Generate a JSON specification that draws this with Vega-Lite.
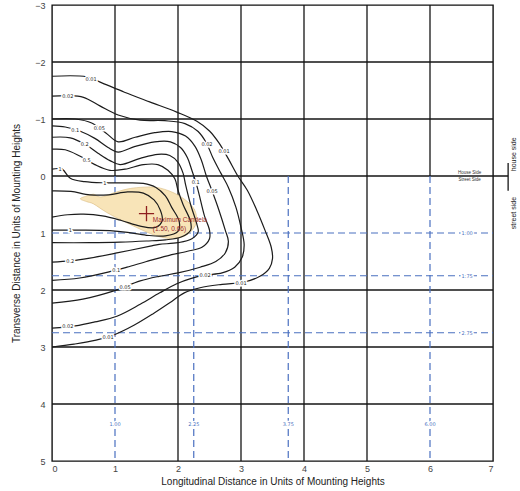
{
  "$schema": "https://vega.github.io/schema/vega-lite/v6.json",
  "width": 441,
  "height": 456,
  "autosize": {"type": "none"},
  "padding": {"left": 52, "top": 5, "right": 27, "bottom": 30},
  "config": {
    "view": {"stroke": "#111", "strokeWidth": 1.4},
    "font": "Liberation Sans",
    "axis": {"labelFont": "Liberation Sans", "titleFont": "Liberation Sans"}
  },
  "datasets": {
    "grid": [
      {"x1": 1, "x2": 1, "y1": -3, "y2": 0},
      {"x1": 2, "x2": 2, "y1": -3, "y2": 5},
      {"x1": 3, "x2": 3, "y1": -3, "y2": 5},
      {"x1": 4, "x2": 4, "y1": -3, "y2": 5},
      {"x1": 5, "x2": 5, "y1": -3, "y2": 5},
      {"x1": 6, "x2": 6, "y1": -3, "y2": 0},
      {"x1": 0, "x2": 7, "y1": -2, "y2": -2},
      {"x1": 0, "x2": 7, "y1": -1, "y2": -1},
      {"x1": 0, "x2": 7.24, "y1": 0, "y2": 0},
      {"x1": 0, "x2": 7, "y1": 2, "y2": 2},
      {"x1": 0, "x2": 7, "y1": 3, "y2": 3},
      {"x1": 0, "x2": 7, "y1": 4, "y2": 4},
      {"x1": 7.24, "x2": 7.24, "y1": -0.23, "y2": 0.26}
    ],
    "dash": [
      {"x1": 1, "x2": 1, "y1": 0, "y2": 5},
      {"x1": 2.25, "x2": 2.25, "y1": 0, "y2": 5},
      {"x1": 3.75, "x2": 3.75, "y1": 0, "y2": 5},
      {"x1": 6, "x2": 6, "y1": 0, "y2": 5},
      {"x1": 0, "x2": 7, "y1": 1, "y2": 1},
      {"x1": 0, "x2": 7, "y1": 1.75, "y2": 1.75},
      {"x1": 0, "x2": 7, "y1": 2.75, "y2": 2.75}
    ],
    "yellow": [
      {"i": 0, "x": 0.45, "y": 0.40},
      {"i": 1, "x": 0.55, "y": 0.35},
      {"i": 2, "x": 0.66, "y": 0.32},
      {"i": 3, "x": 0.73, "y": 0.36},
      {"i": 4, "x": 0.82, "y": 0.36},
      {"i": 5, "x": 0.97, "y": 0.30},
      {"i": 6, "x": 1.19, "y": 0.23},
      {"i": 7, "x": 1.40, "y": 0.20},
      {"i": 8, "x": 1.66, "y": 0.20},
      {"i": 9, "x": 1.92, "y": 0.29},
      {"i": 10, "x": 2.14, "y": 0.44},
      {"i": 11, "x": 2.27, "y": 0.61},
      {"i": 12, "x": 2.29, "y": 0.82},
      {"i": 13, "x": 2.19, "y": 0.99},
      {"i": 14, "x": 2.03, "y": 1.08},
      {"i": 15, "x": 1.82, "y": 1.09},
      {"i": 16, "x": 1.56, "y": 1.01},
      {"i": 17, "x": 1.13, "y": 0.79},
      {"i": 18, "x": 0.87, "y": 0.64},
      {"i": 19, "x": 0.66, "y": 0.49},
      {"i": 20, "x": 0.55, "y": 0.45}
    ],
    "contours": [
      {"c": "0.01", "i": 0, "x": 0, "y": -1.75},
      {"c": "0.01", "i": 1, "x": 0.55, "y": -1.74},
      {"c": "0.01", "i": 2, "x": 0.8, "y": -1.63},
      {"c": "0.01", "i": 3, "x": 1.15, "y": -1.47},
      {"c": "0.01", "i": 4, "x": 1.55, "y": -1.30},
      {"c": "0.01", "i": 5, "x": 1.98, "y": -1.12},
      {"c": "0.01", "i": 6, "x": 2.3, "y": -0.96},
      {"c": "0.01", "i": 7, "x": 2.5, "y": -0.79},
      {"c": "0.01", "i": 8, "x": 2.65, "y": -0.58},
      {"c": "0.01", "i": 9, "x": 2.8, "y": -0.3},
      {"c": "0.01", "i": 10, "x": 2.95, "y": 0},
      {"c": "0.01", "i": 11, "x": 3.1, "y": 0.25},
      {"c": "0.01", "i": 12, "x": 3.25, "y": 0.6},
      {"c": "0.01", "i": 13, "x": 3.38, "y": 0.95},
      {"c": "0.01", "i": 14, "x": 3.48, "y": 1.25},
      {"c": "0.01", "i": 15, "x": 3.5, "y": 1.45},
      {"c": "0.01", "i": 16, "x": 3.45, "y": 1.62},
      {"c": "0.01", "i": 17, "x": 3.3, "y": 1.76},
      {"c": "0.01", "i": 18, "x": 3.05, "y": 1.86},
      {"c": "0.01", "i": 19, "x": 2.7, "y": 1.9},
      {"c": "0.01", "i": 20, "x": 2.35, "y": 1.96},
      {"c": "0.01", "i": 21, "x": 2.1, "y": 2.05},
      {"c": "0.01", "i": 22, "x": 1.9, "y": 2.2},
      {"c": "0.01", "i": 23, "x": 1.6, "y": 2.42},
      {"c": "0.01", "i": 24, "x": 1.3, "y": 2.62},
      {"c": "0.01", "i": 25, "x": 1.0, "y": 2.78},
      {"c": "0.01", "i": 26, "x": 0.7, "y": 2.88},
      {"c": "0.01", "i": 27, "x": 0.35, "y": 2.95},
      {"c": "0.01", "i": 28, "x": 0, "y": 3.0},

      {"c": "0.02", "i": 0, "x": 0, "y": -1.40},
      {"c": "0.02", "i": 1, "x": 0.25, "y": -1.41},
      {"c": "0.02", "i": 2, "x": 0.5, "y": -1.38},
      {"c": "0.02", "i": 3, "x": 0.76, "y": -1.23},
      {"c": "0.02", "i": 4, "x": 1.05, "y": -1.07},
      {"c": "0.02", "i": 5, "x": 1.40, "y": -0.98},
      {"c": "0.02", "i": 6, "x": 1.79, "y": -0.97},
      {"c": "0.02", "i": 7, "x": 2.11, "y": -0.92},
      {"c": "0.02", "i": 8, "x": 2.32, "y": -0.78},
      {"c": "0.02", "i": 9, "x": 2.45, "y": -0.58},
      {"c": "0.02", "i": 10, "x": 2.55, "y": -0.33},
      {"c": "0.02", "i": 11, "x": 2.68, "y": -0.05},
      {"c": "0.02", "i": 12, "x": 2.8, "y": 0.2},
      {"c": "0.02", "i": 13, "x": 2.92, "y": 0.55},
      {"c": "0.02", "i": 14, "x": 3.0, "y": 0.9},
      {"c": "0.02", "i": 15, "x": 3.05, "y": 1.2},
      {"c": "0.02", "i": 16, "x": 3.02, "y": 1.42},
      {"c": "0.02", "i": 17, "x": 2.9, "y": 1.6},
      {"c": "0.02", "i": 18, "x": 2.7, "y": 1.7},
      {"c": "0.02", "i": 19, "x": 2.43, "y": 1.74},
      {"c": "0.02", "i": 20, "x": 2.2, "y": 1.8},
      {"c": "0.02", "i": 21, "x": 1.98, "y": 1.89},
      {"c": "0.02", "i": 22, "x": 1.71, "y": 2.05},
      {"c": "0.02", "i": 23, "x": 1.40, "y": 2.25},
      {"c": "0.02", "i": 24, "x": 1.03, "y": 2.46},
      {"c": "0.02", "i": 25, "x": 0.68, "y": 2.56},
      {"c": "0.02", "i": 26, "x": 0.37, "y": 2.63},
      {"c": "0.02", "i": 27, "x": 0, "y": 2.67},

      {"c": "0.05", "i": 0, "x": 0, "y": -1.0},
      {"c": "0.05", "i": 1, "x": 0.37, "y": -1.0},
      {"c": "0.05", "i": 2, "x": 0.63, "y": -0.93},
      {"c": "0.05", "i": 3, "x": 0.86, "y": -0.75},
      {"c": "0.05", "i": 4, "x": 1.05, "y": -0.6},
      {"c": "0.05", "i": 5, "x": 1.32, "y": -0.68},
      {"c": "0.05", "i": 6, "x": 1.63, "y": -0.76},
      {"c": "0.05", "i": 7, "x": 1.9, "y": -0.78},
      {"c": "0.05", "i": 8, "x": 2.12, "y": -0.7},
      {"c": "0.05", "i": 9, "x": 2.27, "y": -0.52},
      {"c": "0.05", "i": 10, "x": 2.37, "y": -0.28},
      {"c": "0.05", "i": 11, "x": 2.45, "y": 0.0},
      {"c": "0.05", "i": 12, "x": 2.54, "y": 0.26},
      {"c": "0.05", "i": 13, "x": 2.65, "y": 0.6},
      {"c": "0.05", "i": 14, "x": 2.75, "y": 0.95},
      {"c": "0.05", "i": 15, "x": 2.8, "y": 1.15},
      {"c": "0.05", "i": 16, "x": 2.75, "y": 1.35},
      {"c": "0.05", "i": 17, "x": 2.6, "y": 1.5},
      {"c": "0.05", "i": 18, "x": 2.35, "y": 1.6},
      {"c": "0.05", "i": 19, "x": 2.0, "y": 1.7},
      {"c": "0.05", "i": 20, "x": 1.70, "y": 1.76},
      {"c": "0.05", "i": 21, "x": 1.40, "y": 1.84},
      {"c": "0.05", "i": 22, "x": 0.97, "y": 2.02},
      {"c": "0.05", "i": 23, "x": 0.49, "y": 2.16},
      {"c": "0.05", "i": 24, "x": 0, "y": 2.23},

      {"c": "0.1", "i": 0, "x": 0, "y": -0.88},
      {"c": "0.1", "i": 1, "x": 0.21, "y": -0.86},
      {"c": "0.1", "i": 2, "x": 0.44, "y": -0.79},
      {"c": "0.1", "i": 3, "x": 0.68, "y": -0.66},
      {"c": "0.1", "i": 4, "x": 0.89, "y": -0.50},
      {"c": "0.1", "i": 5, "x": 1.05, "y": -0.42},
      {"c": "0.1", "i": 6, "x": 1.32, "y": -0.52},
      {"c": "0.1", "i": 7, "x": 1.63, "y": -0.60},
      {"c": "0.1", "i": 8, "x": 1.88, "y": -0.6},
      {"c": "0.1", "i": 9, "x": 2.04, "y": -0.5},
      {"c": "0.1", "i": 10, "x": 2.15, "y": -0.32},
      {"c": "0.1", "i": 11, "x": 2.22, "y": -0.1},
      {"c": "0.1", "i": 12, "x": 2.28, "y": 0.1},
      {"c": "0.1", "i": 13, "x": 2.33, "y": 0.3},
      {"c": "0.1", "i": 14, "x": 2.42, "y": 0.7},
      {"c": "0.1", "i": 15, "x": 2.5, "y": 0.95},
      {"c": "0.1", "i": 16, "x": 2.5, "y": 1.1},
      {"c": "0.1", "i": 17, "x": 2.38, "y": 1.25},
      {"c": "0.1", "i": 18, "x": 2.15, "y": 1.32},
      {"c": "0.1", "i": 19, "x": 1.83, "y": 1.40},
      {"c": "0.1", "i": 20, "x": 1.5, "y": 1.5},
      {"c": "0.1", "i": 21, "x": 1.19, "y": 1.6},
      {"c": "0.1", "i": 22, "x": 0.95, "y": 1.67},
      {"c": "0.1", "i": 23, "x": 0.44, "y": 1.79},
      {"c": "0.1", "i": 24, "x": 0, "y": 1.83},

      {"c": "0.2", "i": 0, "x": 0, "y": -0.68},
      {"c": "0.2", "i": 1, "x": 0.29, "y": -0.67},
      {"c": "0.2", "i": 2, "x": 0.52, "y": -0.56},
      {"c": "0.2", "i": 3, "x": 0.73, "y": -0.40},
      {"c": "0.2", "i": 4, "x": 0.92, "y": -0.27},
      {"c": "0.2", "i": 5, "x": 1.08, "y": -0.2},
      {"c": "0.2", "i": 6, "x": 1.40, "y": -0.31},
      {"c": "0.2", "i": 7, "x": 1.68, "y": -0.38},
      {"c": "0.2", "i": 8, "x": 1.87, "y": -0.36},
      {"c": "0.2", "i": 9, "x": 2.0, "y": -0.24},
      {"c": "0.2", "i": 10, "x": 2.08, "y": -0.05},
      {"c": "0.2", "i": 11, "x": 2.12, "y": 0.15},
      {"c": "0.2", "i": 12, "x": 2.2, "y": 0.5},
      {"c": "0.2", "i": 13, "x": 2.3, "y": 0.85},
      {"c": "0.2", "i": 14, "x": 2.32, "y": 0.98},
      {"c": "0.2", "i": 15, "x": 2.22, "y": 1.1},
      {"c": "0.2", "i": 16, "x": 2.0, "y": 1.17},
      {"c": "0.2", "i": 17, "x": 1.7, "y": 1.2},
      {"c": "0.2", "i": 18, "x": 1.56, "y": 1.23},
      {"c": "0.2", "i": 19, "x": 1.03, "y": 1.35},
      {"c": "0.2", "i": 20, "x": 0.6, "y": 1.44},
      {"c": "0.2", "i": 21, "x": 0.29, "y": 1.49},
      {"c": "0.2", "i": 22, "x": 0, "y": 1.51},

      {"c": "0.5", "i": 0, "x": 0, "y": -0.47},
      {"c": "0.5", "i": 1, "x": 0.21, "y": -0.46},
      {"c": "0.5", "i": 2, "x": 0.44, "y": -0.35},
      {"c": "0.5", "i": 3, "x": 0.68, "y": -0.2},
      {"c": "0.5", "i": 4, "x": 0.92, "y": -0.1},
      {"c": "0.5", "i": 5, "x": 1.16, "y": -0.12},
      {"c": "0.5", "i": 6, "x": 1.45, "y": -0.2},
      {"c": "0.5", "i": 7, "x": 1.68, "y": -0.2},
      {"c": "0.5", "i": 8, "x": 1.84, "y": -0.1},
      {"c": "0.5", "i": 9, "x": 1.95, "y": 0.05},
      {"c": "0.5", "i": 10, "x": 2.0, "y": 0.25},
      {"c": "0.5", "i": 11, "x": 2.08, "y": 0.5},
      {"c": "0.5", "i": 12, "x": 2.2, "y": 0.8},
      {"c": "0.5", "i": 13, "x": 2.2, "y": 0.95},
      {"c": "0.5", "i": 14, "x": 2.05, "y": 1.07},
      {"c": "0.5", "i": 15, "x": 1.8, "y": 1.12},
      {"c": "0.5", "i": 16, "x": 1.5, "y": 1.14},
      {"c": "0.5", "i": 17, "x": 1.08, "y": 1.16},
      {"c": "0.5", "i": 18, "x": 0.6, "y": 1.17},
      {"c": "0.5", "i": 19, "x": 0, "y": 1.17},

      {"c": "1", "i": 0, "x": 0, "y": -0.12},
      {"c": "1", "i": 1, "x": 0.16, "y": -0.12},
      {"c": "1", "i": 2, "x": 0.29, "y": 0.04},
      {"c": "1", "i": 3, "x": 0.52, "y": 0.1},
      {"c": "1", "i": 4, "x": 0.84, "y": 0.12},
      {"c": "1", "i": 5, "x": 1.16, "y": 0.12},
      {"c": "1", "i": 6, "x": 1.45, "y": 0.13},
      {"c": "1", "i": 7, "x": 1.65, "y": 0.2},
      {"c": "1", "i": 8, "x": 1.8, "y": 0.35},
      {"c": "1", "i": 9, "x": 1.9, "y": 0.55},
      {"c": "1", "i": 10, "x": 2.02, "y": 0.8},
      {"c": "1", "i": 11, "x": 2.0, "y": 0.97},
      {"c": "1", "i": 12, "x": 1.8, "y": 1.05},
      {"c": "1", "i": 13, "x": 1.5, "y": 1.04},
      {"c": "1", "i": 14, "x": 1.2, "y": 0.99},
      {"c": "1", "i": 15, "x": 0.92, "y": 0.96},
      {"c": "1", "i": 16, "x": 0.44, "y": 0.95},
      {"c": "1", "i": 17, "x": 0, "y": 0.95},

      {"c": "2", "i": 0, "x": 0, "y": 0.26},
      {"c": "2", "i": 1, "x": 0.3, "y": 0.27},
      {"c": "2", "i": 2, "x": 0.6, "y": 0.33},
      {"c": "2", "i": 3, "x": 0.9, "y": 0.33},
      {"c": "2", "i": 4, "x": 1.2, "y": 0.28},
      {"c": "2", "i": 5, "x": 1.45, "y": 0.3},
      {"c": "2", "i": 6, "x": 1.62, "y": 0.42},
      {"c": "2", "i": 7, "x": 1.72, "y": 0.6},
      {"c": "2", "i": 8, "x": 1.75, "y": 0.78},
      {"c": "2", "i": 9, "x": 1.65, "y": 0.9},
      {"c": "2", "i": 10, "x": 1.4, "y": 0.88},
      {"c": "2", "i": 11, "x": 1.1, "y": 0.78},
      {"c": "2", "i": 12, "x": 0.8, "y": 0.7},
      {"c": "2", "i": 13, "x": 0.5, "y": 0.67},
      {"c": "2", "i": 14, "x": 0.25, "y": 0.68},
      {"c": "2", "i": 15, "x": 0, "y": 0.72}
    ],
    "clabels": [
      {"x": 0.62, "y": -1.71, "t": "0.01"},
      {"x": 0.25, "y": -1.41, "t": "0.02"},
      {"x": 0.75, "y": -0.84, "t": "0.05"},
      {"x": 0.37, "y": -0.81, "t": "0.1"},
      {"x": 0.52, "y": -0.56, "t": "0.2"},
      {"x": 0.55, "y": -0.28, "t": "0.5"},
      {"x": 0.13, "y": -0.12, "t": "1"},
      {"x": 2.46, "y": -0.56, "t": "0.02"},
      {"x": 2.73, "y": -0.43, "t": "0.01"},
      {"x": 2.28, "y": 0.1, "t": "0.1"},
      {"x": 2.54, "y": 0.26, "t": "0.05"},
      {"x": 0.84, "y": 0.12, "t": "1"},
      {"x": 0.29, "y": 0.95, "t": "1"},
      {"x": 0.29, "y": 1.49, "t": "0.2"},
      {"x": 1.02, "y": 1.65, "t": "0.1"},
      {"x": 1.16, "y": 1.94, "t": "0.05"},
      {"x": 0.25, "y": 2.64, "t": "0.02"},
      {"x": 0.89, "y": 2.82, "t": "0.01"},
      {"x": 2.43, "y": 1.74, "t": "0.02"},
      {"x": 3.0, "y": 1.87, "t": "0.01"}
    ],
    "blabels": [
      {"x": 1, "y": 4.35, "t": "1.00"},
      {"x": 2.25, "y": 4.35, "t": "2.25"},
      {"x": 3.75, "y": 4.35, "t": "3.75"},
      {"x": 6, "y": 4.35, "t": "6.00"},
      {"x": 6.59, "y": 1, "t": "1.00"},
      {"x": 6.59, "y": 1.75, "t": "1.75"},
      {"x": 6.59, "y": 2.75, "t": "2.75"}
    ],
    "maxpt": [{"x": 1.5, "y": 0.66}],
    "maxtext": [
      {"x": 1.6, "y": 0.78, "t": "Maximum Candela"},
      {"x": 1.6, "y": 0.93, "t": "(1.50, 0.66)"}
    ],
    "sidesmall": [
      {"x": 6.63, "y": -0.05, "t": "House Side"},
      {"x": 6.63, "y": 0.07, "t": "Street Side"}
    ],
    "siderot": [
      {"x": 7.33, "y": -0.38, "t": "house side"},
      {"x": 7.33, "y": 0.65, "t": "street side"}
    ]
  },
  "layer": [
    {
      "data": {"name": "grid"},
      "mark": {"type": "rule", "color": "#151515", "strokeWidth": 1.3},
      "encoding": {
        "x": {
          "field": "x1", "type": "quantitative",
          "scale": {"domain": [0, 7], "nice": false, "zero": false},
          "axis": {
            "title": "Longitudinal Distance in Units of Mounting Heights",
            "values": [0, 1, 2, 3, 4, 5, 6, 7], "format": "d",
            "grid": false, "ticks": false, "domain": false,
            "labelFontSize": 9, "labelColor": "#444", "labelPadding": 3,
            "titleFontSize": 10, "titleFontWeight": "normal", "titleColor": "#222", "titlePadding": 3
          }
        },
        "x2": {"field": "x2"},
        "y": {
          "field": "y1", "type": "quantitative",
          "scale": {"domain": [-3, 5], "nice": false, "zero": false, "reverse": true},
          "axis": {
            "title": "Transverse Distance in Units of Mounting Heights",
            "values": [-3, -2, -1, 0, 1, 2, 3, 4, 5], "format": "d",
            "grid": false, "ticks": false, "domain": false,
            "labelFontSize": 9, "labelColor": "#444", "labelPadding": 7,
            "titleFontSize": 10, "titleFontWeight": "normal", "titleColor": "#222", "titlePadding": 13
          }
        },
        "y2": {"field": "y2"}
      }
    },
    {
      "data": {"name": "dash"},
      "mark": {"type": "rule", "color": "#4a70c0", "strokeWidth": 1.2, "strokeDash": [7, 4]},
      "encoding": {
        "x": {"field": "x1", "type": "quantitative"},
        "x2": {"field": "x2"},
        "y": {"field": "y1", "type": "quantitative"},
        "y2": {"field": "y2"}
      }
    },
    {
      "data": {"name": "yellow"},
      "mark": {"type": "line", "interpolate": "cardinal-closed", "fill": "#f8e4b8", "stroke": "#d8bb80", "strokeWidth": 0.6},
      "encoding": {
        "x": {"field": "x", "type": "quantitative"},
        "y": {"field": "y", "type": "quantitative"},
        "order": {"field": "i", "type": "quantitative"}
      }
    },
    {
      "data": {"name": "contours"},
      "mark": {"type": "line", "interpolate": "catmull-rom", "stroke": "#1c1c1c", "strokeWidth": 1.2},
      "encoding": {
        "x": {"field": "x", "type": "quantitative"},
        "y": {"field": "y", "type": "quantitative"},
        "detail": {"field": "c", "type": "nominal"},
        "order": {"field": "i", "type": "quantitative"}
      }
    },
    {
      "data": {"name": "clabels"},
      "mark": {"type": "text", "fontSize": 5, "font": "DejaVu Sans", "stroke": "white", "strokeWidth": 3, "fill": "white"},
      "encoding": {
        "x": {"field": "x", "type": "quantitative"},
        "y": {"field": "y", "type": "quantitative"},
        "text": {"field": "t"}
      }
    },
    {
      "data": {"name": "clabels"},
      "mark": {"type": "text", "fontSize": 5, "font": "DejaVu Sans", "fill": "#222"},
      "encoding": {
        "x": {"field": "x", "type": "quantitative"},
        "y": {"field": "y", "type": "quantitative"},
        "text": {"field": "t"}
      }
    },
    {
      "data": {"name": "blabels"},
      "mark": {"type": "text", "fontSize": 5, "font": "DejaVu Sans", "stroke": "white", "strokeWidth": 3, "fill": "white"},
      "encoding": {
        "x": {"field": "x", "type": "quantitative"},
        "y": {"field": "y", "type": "quantitative"},
        "text": {"field": "t"}
      }
    },
    {
      "data": {"name": "blabels"},
      "mark": {"type": "text", "fontSize": 5, "font": "DejaVu Sans", "fill": "#4a70c0"},
      "encoding": {
        "x": {"field": "x", "type": "quantitative"},
        "y": {"field": "y", "type": "quantitative"},
        "text": {"field": "t"}
      }
    },
    {
      "data": {"name": "maxpt"},
      "mark": {"type": "point", "shape": "M-1,0L1,0M0,-1L0,1", "size": 230, "filled": false, "stroke": "#8e1f1f", "strokeWidth": 1.3, "opacity": 1},
      "encoding": {
        "x": {"field": "x", "type": "quantitative"},
        "y": {"field": "y", "type": "quantitative"}
      }
    },
    {
      "data": {"name": "maxtext"},
      "mark": {"type": "text", "fontSize": 6.5, "align": "left", "fill": "#9a2a2a"},
      "encoding": {
        "x": {"field": "x", "type": "quantitative"},
        "y": {"field": "y", "type": "quantitative"},
        "text": {"field": "t"}
      }
    },
    {
      "data": {"name": "sidesmall"},
      "mark": {"type": "text", "fontSize": 4.5, "fill": "#333"},
      "encoding": {
        "x": {"field": "x", "type": "quantitative"},
        "y": {"field": "y", "type": "quantitative"},
        "text": {"field": "t"}
      }
    },
    {
      "data": {"name": "siderot"},
      "mark": {"type": "text", "fontSize": 7, "angle": 270, "fill": "#222"},
      "encoding": {
        "x": {"field": "x", "type": "quantitative"},
        "y": {"field": "y", "type": "quantitative"},
        "text": {"field": "t"}
      }
    }
  ]
}
